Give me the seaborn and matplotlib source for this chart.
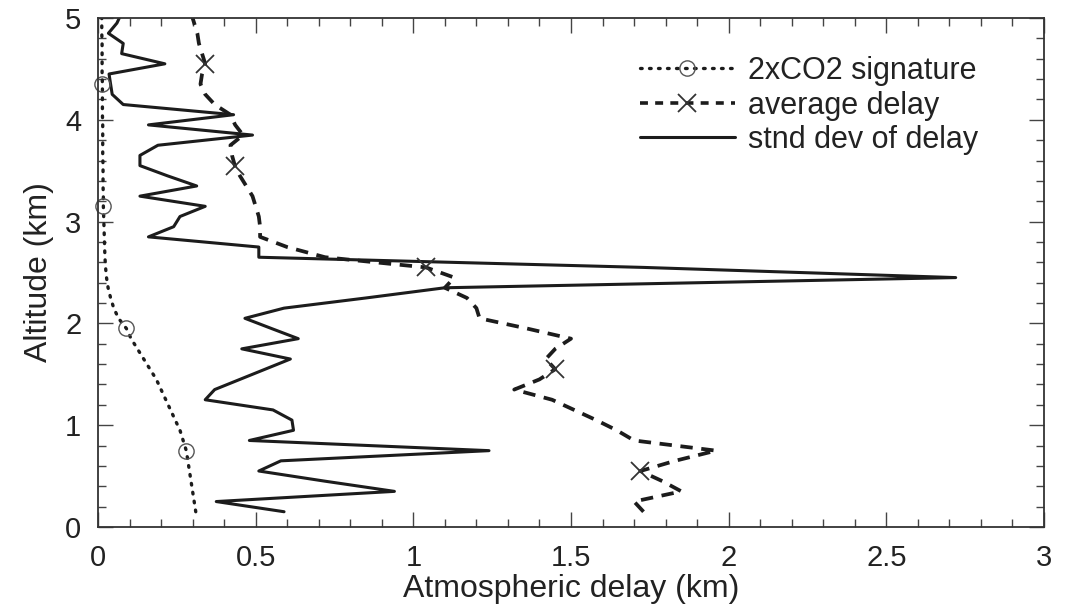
import matplotlib
matplotlib.use("Agg")
import matplotlib.pyplot as plt
from matplotlib.lines import Line2D
from matplotlib.ticker import MultipleLocator
import pandas as pd
import seaborn as sns

# Altitude levels (km) shared by all three profiles
altitude = [0.15, 0.25, 0.35, 0.45, 0.55, 0.65, 0.75, 0.85, 0.95, 1.05,
            1.15, 1.25, 1.35, 1.45, 1.55, 1.65, 1.75, 1.85, 1.95, 2.05,
            2.15, 2.25, 2.35, 2.45, 2.55, 2.65, 2.75, 2.85, 2.95, 3.05,
            3.15, 3.25, 3.35, 3.45, 3.55, 3.65, 3.75, 3.85, 3.95, 4.05,
            4.15, 4.25, 4.35, 4.45, 4.55, 4.65, 4.75, 4.85, 4.95, 5.05]

# 2xCO2 signature (km)
co2_signature = [0.31, 0.305, 0.30, 0.295, 0.29, 0.285, 0.28, 0.27, 0.26, 0.245,
                 0.23, 0.215, 0.20, 0.185, 0.165, 0.145, 0.125, 0.105, 0.09, 0.065,
                 0.05, 0.04, 0.032, 0.027, 0.024, 0.022, 0.021, 0.02, 0.019, 0.018,
                 0.017, 0.017, 0.016, 0.016, 0.016, 0.015, 0.015, 0.015, 0.015, 0.014,
                 0.014, 0.014, 0.014, 0.013, 0.013, 0.013, 0.013, 0.012, 0.012, 0.012]

# Average delay (km)
average_delay = [1.73, 1.70, 1.85, 1.79, 1.72, 1.83, 1.96, 1.70, 1.645, 1.58,
                 1.51, 1.44, 1.32, 1.40, 1.45, 1.42, 1.45, 1.50, 1.36, 1.21,
                 1.20, 1.17, 1.10, 1.13, 1.04, 0.72, 0.60, 0.514, 0.514, 0.51,
                 0.50, 0.49, 0.47, 0.45, 0.434, 0.425, 0.42, 0.46, 0.435, 0.42,
                 0.37, 0.34, 0.325, 0.33, 0.34, 0.33, 0.32, 0.315, 0.305, 0.295]

# Standard deviation of delay (km)
stnd_dev = [0.59, 0.375, 0.94, 0.72, 0.51, 0.58, 1.24, 0.48, 0.62, 0.615,
            0.555, 0.34, 0.37, 0.45, 0.53, 0.61, 0.456, 0.635, 0.55, 0.466,
            0.59, 0.85, 1.10, 2.72, 1.73, 0.51, 0.51, 0.16, 0.24, 0.26,
            0.34, 0.133, 0.313, 0.22, 0.133, 0.133, 0.19, 0.49, 0.16, 0.43,
            0.08, 0.045, 0.04, 0.035, 0.212, 0.075, 0.08, 0.033, 0.06, 0.075]

# Levels that carry symbols
circle_idx = [6, 18, 30, 42]
cross_idx = [4, 14, 24, 34, 44]

legend_labels = ["2xCO2 signature", "average delay", "stnd dev of delay"]

df = pd.DataFrame({"altitude": altitude, "co2": co2_signature,
                   "avg": average_delay, "std": stnd_dev})

sns.set_theme(style="ticks")
plt.rcParams["font.family"] = ["Liberation Sans", "DejaVu Sans"]

INK = "#1c1c1c"
MARK = "#555555"
DOTTED = (0, (0.5, 2.2))
DASHED = (0, (3.3, 2.3))

fig = plt.figure(figsize=(10.65, 6.09), dpi=100)
ax = fig.add_axes([98 / 1065, 1 - 527 / 609, (1044 - 98) / 1065, (527 - 18) / 609])

sns.lineplot(data=df, x="co2", y="altitude", orient="y", sort=False, estimator=None,
             ax=ax, color=INK, lw=2.4, linestyle=DOTTED,
             dash_capstyle="round", legend=False)
sns.lineplot(data=df, x="avg", y="altitude", orient="y", sort=False, estimator=None,
             ax=ax, color=INK, lw=2.7, linestyle=DASHED, legend=False)
sns.lineplot(data=df, x="std", y="altitude", orient="y", sort=False, estimator=None,
             ax=ax, color=INK, lw=2.2, legend=False)

circ = df.iloc[circle_idx]
ax.plot(circ["co2"], circ["altitude"], ls="none", marker="o", ms=11,
        mfc="none", mec=MARK, mew=1.0, clip_on=False)
crs = df.iloc[cross_idx]
ax.plot(crs["avg"], crs["altitude"], ls="none", marker="x", ms=13,
        mec="#333333", mew=1.3)

ax.set_xlim(0, 3)
ax.set_ylim(0, 5)
ax.xaxis.set_major_locator(MultipleLocator(0.5))
ax.xaxis.set_minor_locator(MultipleLocator(0.1))
ax.yaxis.set_major_locator(MultipleLocator(1))
ax.yaxis.set_minor_locator(MultipleLocator(0.2))
ax.xaxis.set_major_formatter(plt.FuncFormatter(lambda v, p: f"{v:g}"))
ax.yaxis.set_major_formatter(plt.FuncFormatter(lambda v, p: f"{v:g}"))

ax.tick_params(which="both", direction="in", top=True, right=True,
               color="#444444", width=1.0, labelsize=21, labelcolor="#222222")
ax.tick_params(which="major", length=11, pad=12)
ax.tick_params(which="minor", length=6)
for s in ax.spines.values():
    s.set_linewidth(1.3)
    s.set_color("#333333")

ax.set_xlabel("Atmospheric delay (km)", fontsize=23, color="#222222", labelpad=2)
ax.set_ylabel("Altitude (km)", fontsize=23, color="#222222", labelpad=8)

handles = [
    Line2D([], [], color=INK, lw=2.4, linestyle=DOTTED, dash_capstyle="round",
           marker="o", ms=11, mfc="none", mec=MARK, mew=1.0),
    Line2D([], [], color=INK, lw=2.6, linestyle=(0, (2.2, 2.0)),
           marker="x", ms=13, mec="#333333", mew=1.3),
    Line2D([], [], color=INK, lw=2.2),
]
leg = ax.legend(handles, legend_labels, loc="upper left", numpoints=1,
                bbox_to_anchor=(640 / 1065, 1 - 56 / 609), bbox_transform=fig.transFigure,
                frameon=False, fontsize=22, handlelength=3.1, handletextpad=0.45,
                labelspacing=0.15, borderpad=0, borderaxespad=0)
for t in leg.get_texts():
    t.set_color("#222222")

fig.savefig("out.png", dpi=100, facecolor="white")
